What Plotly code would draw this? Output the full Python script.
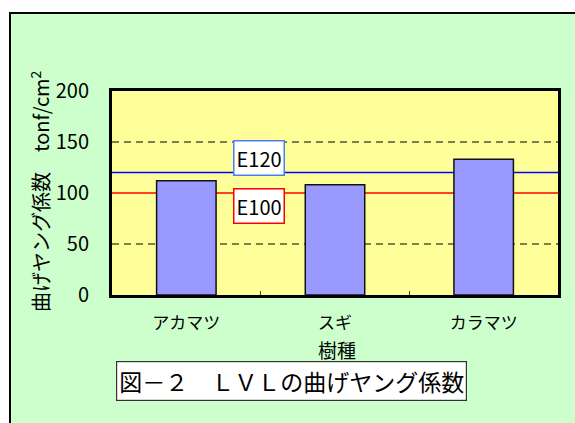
import plotly.graph_objects as go

# ---- data ----
categories = ["アカマツ", "スギ", "カラマツ"]
values = [112, 108, 133]
ref_names = ["E120", "E100"]
ref_values = [120, 100]
ref_colors = ["#0000FF", "#FF0000"]
ref_border = ["#4A7EF5", "#FF0000"]
ref_label_y = [134, 87]
y_ticks = [0, 50, 100, 150, 200]
grid_values = [50, 150]

FONT = "Noto Sans CJK JP"
W, H = 575, 423
L, R, T, B = 112, 17, 91, 128
pw, ph = W - L - R, H - T - B


def px_x(px):
    return (px - L) / pw


def px_y(py):
    return (H - B - py) / ph


fig = go.Figure()
fig.add_trace(go.Bar(
    x=categories, y=values,
    marker=dict(color="#9999FF", line=dict(color="#111111", width=1.5)),
    width=0.4,
))

shapes = []
# outer frame (white strips outside, black border)
shapes.append(dict(type="rect", xref="paper", yref="paper", x0=px_x(-5), x1=px_x(W + 5),
                   y0=px_y(0), y1=px_y(12), fillcolor="white", line=dict(width=0), layer="above"))
shapes.append(dict(type="rect", xref="paper", yref="paper", x0=px_x(-5), x1=px_x(9),
                   y0=px_y(H + 5), y1=px_y(0), fillcolor="white", line=dict(width=0), layer="above"))
shapes.append(dict(type="rect", xref="paper", yref="paper", x0=px_x(10), x1=px_x(W + 20),
                   y0=px_y(H + 20), y1=px_y(13), line=dict(color="black", width=2), layer="above"))

n = len(categories)
for g in grid_values:
    shapes.append(dict(type="line", xref="x", yref="y", x0=-0.5, x1=n - 0.5, y0=g, y1=g,
                       line=dict(color="black", width=1, dash="7px,5px"), layer="below"))
for v, c in zip(ref_values, ref_colors):
    shapes.append(dict(type="line", xref="x", yref="y", x0=-0.5, x1=n - 0.5, y0=v, y1=v,
                       line=dict(color=c, width=1.5), layer="below"))

annotations = []
for name, c, ly in zip(ref_names, ref_border, ref_label_y):
    annotations.append(dict(x=0.49, y=ly, xref="x", yref="y", text=name, showarrow=False,
                            xanchor="center", yanchor="middle",
                            font=dict(family=FONT, size=20, color="black"),
                            bgcolor="white", bordercolor=c, borderwidth=1.5, borderpad=2))

annotations.append(dict(x=px_x(40), y=px_y(191), xref="paper", yref="paper",
                        xanchor="center", yanchor="middle",
                        text="曲げヤング係数　tonf/cm<sup>2</sup>", textangle=-90, showarrow=False,
                        font=dict(family=FONT, size=20, color="black")))
annotations.append(dict(x=px_x(337), y=px_y(349), xref="paper", yref="paper",
                        xanchor="center", yanchor="middle",
                        text="樹種", showarrow=False,
                        font=dict(family=FONT, size=19, color="black")))
annotations.append(dict(x=px_x(291.5), y=px_y(380.7), xref="paper", yref="paper",
                        xanchor="center", yanchor="middle",
                        text="図－２　ＬＶＬの曲げヤング係数", showarrow=False,
                        font=dict(family=FONT, size=23, color="black"),
                        bgcolor="white", bordercolor="#333333", borderwidth=1.2, borderpad=2))

fig.update_layout(
    width=W, height=H,
    margin=dict(l=L, r=R, t=T, b=B, pad=0),
    paper_bgcolor="#CCFFCC",
    plot_bgcolor="#FFFF99",
    showlegend=False,
    shapes=shapes,
    annotations=annotations,
    font=dict(family=FONT, color="black"),
)
fig.update_xaxes(
    showline=True, mirror=True, linecolor="black", linewidth=3,
    ticks="inside", tickson="boundaries", ticklen=4, tickcolor="#444444",
    showgrid=False, tickfont=dict(family=FONT, size=17), ticklabelstandoff=11,
    range=[-0.5, n - 0.5],
)
fig.update_yaxes(
    range=[0, 200], tickvals=y_ticks, showline=True, mirror=True, linecolor="black", linewidth=3,
    showgrid=False, zeroline=False,
    tickfont=dict(family=FONT, size=20), ticks="", ticklabelstandoff=16,
)

fig.write_html("out.html", config={"displayModeBar": False},
               post_script="document.body.style.margin='0px';")
